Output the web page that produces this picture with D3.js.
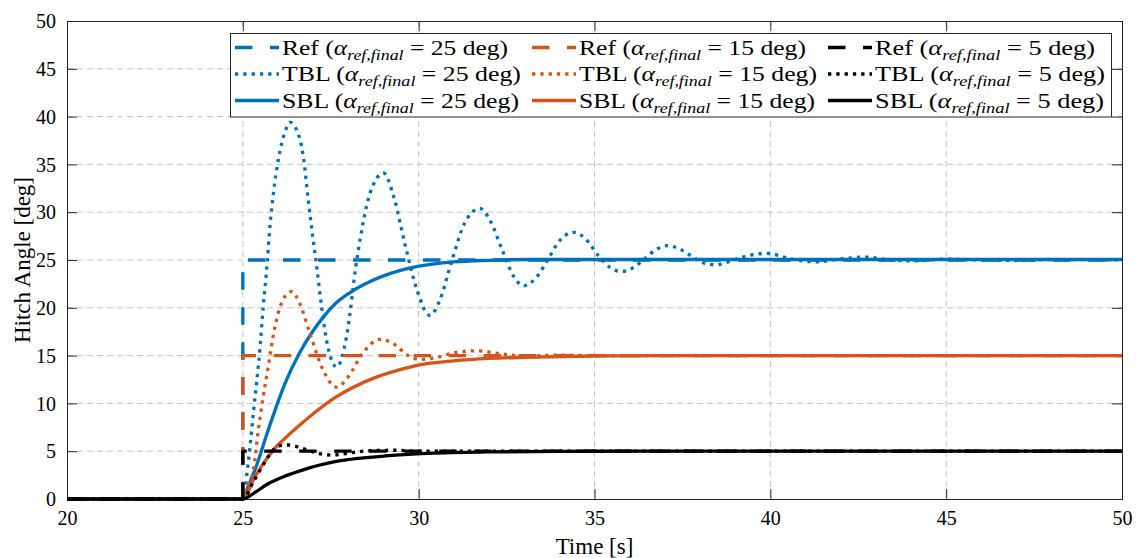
<!DOCTYPE html>
<html><head><meta charset="utf-8">
<script src="https://cdn.jsdelivr.net/npm/d3@7"></script>
<style>html,body{margin:0;padding:0;background:#fff;} svg{display:block;}</style>
</head><body><svg id="c" width="1137" height="558"></svg>
<script>
// ---------- data ----------
const xTicks = [20, 25, 30, 35, 40, 45, 50];
const yTicks = [0, 5, 10, 15, 20, 25, 30, 35, 40, 45, 50];
const finals = [25, 15, 5];
const seriesColors = ["#0072BD", "#D95319", "#000000"];
const kinds = ["Ref", "TBL", "SBL"];

// reference steps
const refTime = [20, 25, 25, 50];
const ref25 = [0, 0, 25, 25];
const ref15 = [0, 0, 15, 15];
const ref5 = [0, 0, 5, 5];

// TBL responses [time, angle]
const tbl25 = [[20,0],[25,0],[25.15,3.7],[25.3,9.0],[25.49,15.9],[25.58,20.1],[25.7,25],[25.77,28.5],[25.87,32],[26.01,35.5],[26.2,38.4],[26.34,39.4],[26.53,38.6],[26.72,35.8],[26.86,31.3],[27.0,27.1],[27.1,24.3],[27.24,20.1],[27.38,16.6],[27.67,13.8],[27.95,17.0],[28.24,25.0],[28.62,32.0],[29.0,34.1],[29.3,31.5],[29.62,26.5],[29.94,22.0],[30.32,19.2],[30.6,20.8],[30.95,25.0],[31.3,28.8],[31.74,30.4],[32.05,29.0],[32.38,26.0],[32.7,23.3],[32.98,22.3],[33.35,23.2],[33.7,25.2],[34.0,27.0],[34.42,27.9],[34.75,27.2],[35.1,25.5],[35.45,24.2],[35.77,23.8],[36.1,24.2],[36.45,25.2],[36.75,26.1],[37.07,26.5],[37.45,26.1],[37.8,25.3],[38.1,24.7],[38.43,24.5],[38.8,24.8],[39.2,25.3],[39.9,25.7],[40.6,25.1],[41.3,24.8],[42.0,25.1],[42.7,25.3],[43.4,25.0],[44.1,24.9],[45,25.1],[46,25.0],[47,24.95],[48,25.05],[50,25.0]];
const tbl15 = [[20,0],[25,0],[25.15,1.5],[25.3,3.0],[25.44,7.2],[25.58,10.7],[25.72,13.8],[25.86,17.0],[26.06,20.1],[26.22,21.3],[26.39,21.7],[26.6,20.6],[26.91,17.3],[27.28,13.5],[27.67,11.7],[28.0,12.8],[28.4,15.2],[28.9,16.7],[29.3,16.2],[29.7,15.0],[30.04,14.6],[30.5,14.8],[31.0,15.3],[31.65,15.5],[32.3,15.2],[33.0,14.95],[34,15.05],[35,15.0],[50,15.0]];
const tbl5 = [[20,0],[25,0],[25.3,1.8],[25.6,3.7],[25.91,5.3],[26.1,5.6],[26.29,5.65],[26.7,5.3],[27.1,4.8],[27.53,4.6],[28.0,4.8],[28.6,5.05],[29.3,5.1],[30,5.0],[50,5.0]];

// SBL responses [time, angle]
const sbl25 = [[20,0],[25,0],[25.15,1.3],[25.34,3.0],[25.72,7.2],[26.2,12.1],[26.6,15.2],[27.0,17.6],[27.28,19.0],[27.65,20.5],[28.05,21.6],[28.62,22.75],[29.2,23.6],[29.94,24.3],[31,24.8],[32,24.97],[33.2,25.05],[50,25.05]];
const sbl15 = [[20,0],[25,0],[25.3,2.0],[25.6,3.8],[25.91,5.3],[26.3,6.7],[26.67,7.9],[27.1,9.2],[27.62,10.6],[28.2,11.8],[28.76,12.7],[29.4,13.45],[29.99,14.0],[31,14.45],[32,14.7],[32.97,14.82],[34.5,14.93],[36,14.98],[38,15],[50,15]];
const sbl5 = [[20,0],[25,0],[25.35,0.7],[25.72,1.6],[26.2,2.4],[26.67,3.0],[27.62,3.9],[28.3,4.25],[29.04,4.5],[30.46,4.8],[32,4.93],[34,4.98],[36,5.0],[50,5.0]];

// legend text target widths (px) per column [Ref, TBL, SBL]
const legendWidths = [[226, 239, 237], [227, 238, 236], [220, 230, 229]];

// ---------- drawing ----------
const svg = d3.select("#c");
const FONT = "'Liberation Serif','Times New Roman',serif";
const L = 67, R = 1122, T = 21, B = 499;
const x = d3.scaleLinear().domain([20, 50]).range([L, R]);
const y = d3.scaleLinear().domain([0, 50]).range([B, T]);
const axisColor = "#262626";
const gridColor = "#c4c4c4";

svg.append("rect").attr("x",0).attr("y",0).attr("width",1137).attr("height",558).attr("fill","#fff");

// grid
const grid = svg.append("g");
grid.selectAll(".gx").data(xTicks.slice(1,-1)).enter().append("line")
  .attr("x1", d=>x(d)).attr("x2", d=>x(d)).attr("y1", T).attr("y2", B)
  .attr("stroke", gridColor).attr("stroke-width",1).attr("stroke-dasharray","6,4");
grid.selectAll(".gy").data(yTicks.slice(1,-1)).enter().append("line")
  .attr("x1", L).attr("x2", R).attr("y1", d=>y(d)).attr("y2", d=>y(d))
  .attr("stroke", gridColor).attr("stroke-width",1).attr("stroke-dasharray","6,4");

// axes with ticks on all sides
const tk = 10;
const axB = svg.append("g").attr("transform",`translate(0,${B})`)
  .call(d3.axisBottom(x).tickValues(xTicks).tickSize(-tk).tickPadding(0).tickFormat(d3.format("d")));
const axT = svg.append("g").attr("transform",`translate(0,${T})`)
  .call(d3.axisTop(x).tickValues(xTicks).tickSize(-tk).tickFormat(""));
const axL = svg.append("g").attr("transform",`translate(${L},0)`)
  .call(d3.axisLeft(y).tickValues(yTicks).tickSize(-tk).tickPadding(0).tickFormat(d3.format("d")));
const axR = svg.append("g").attr("transform",`translate(${R},0)`)
  .call(d3.axisRight(y).tickValues(yTicks).tickSize(-tk).tickFormat(""));
[axB, axT, axL, axR].forEach(a => {
  a.attr("font-family", FONT).attr("font-size", 20);
  a.select(".domain").attr("stroke", axisColor).attr("stroke-width", 1);
  a.selectAll(".tick line").attr("stroke", axisColor).attr("stroke-width", 1);
  a.selectAll("text").attr("font-family", FONT).attr("font-size", 20).attr("fill", "#000");
});
axB.selectAll(".tick text").attr("y", 12).attr("dy", "0.71em");
axL.selectAll(".tick text").attr("x", -11).attr("dy", "0.33em");

// axis labels
svg.append("text").attr("x", (L+R)/2).attr("y", 554).attr("text-anchor","middle")
  .attr("font-family", FONT).attr("font-size", 23).text("Time [s]");
svg.append("text").attr("transform", `translate(30,${(T+B)/2}) rotate(-90)`).attr("text-anchor","middle")
  .attr("font-family", FONT).attr("font-size", 23).text("Hitch Angle [deg]");

// clip
svg.append("clipPath").attr("id","clip").append("rect").attr("x",L).attr("y",T-4).attr("width",R-L).attr("height",B-T+8);
const plot = svg.append("g").attr("clip-path","url(#clip)");

const lw = 3.3;
const styles = {
  Ref: {dash: "17.5,17.5"},
  TBL: {dash: "3.3,5"},
  SBL: {dash: null}
};
const stepLine = d3.line().x(d=>x(d[0])).y(d=>y(d[1]));
const smoothLine = d3.line().x(d=>x(d[0])).y(d=>y(d[1])).curve(d3.curveMonotoneX);

const refs = [ref25, ref15, ref5];
const tbls = [tbl25, tbl15, tbl5];
const sbls = [sbl25, sbl15, sbl5];

function draw(g, data, gen, color, dash) {
  const p = g.append("path").datum(data).attr("d", gen)
    .attr("fill","none").attr("stroke", color).attr("stroke-width", lw)
    .attr("stroke-linejoin","round");
  if (dash) p.attr("stroke-dasharray", dash);
}
for (let i = 0; i < 3; i++) {
  const refPts = refTime.map((t, k) => [t, refs[i][k]]);
  draw(plot, refPts, stepLine, seriesColors[i], styles.Ref.dash);
  draw(plot, tbls[i], smoothLine, seriesColors[i], styles.TBL.dash);
  draw(plot, sbls[i], smoothLine, seriesColors[i], styles.SBL.dash);
}

// legend
const lg = svg.append("g");
lg.append("rect").attr("x", 230.5).attr("y", 33.5).attr("width", 881).attr("height", 83.5)
  .attr("fill", "#fff").attr("stroke", axisColor).attr("stroke-width", 1);
const colX = [235, 532, 828];
const rowY = [47.5, 74, 100.5];
const sampleLen = 44;
for (let c = 0; c < 3; c++) {
  kinds.forEach((k, r) => {
    const yy = rowY[r];
    const ln = lg.append("line").attr("x1", colX[c]).attr("x2", colX[c] + sampleLen)
      .attr("y1", yy).attr("y2", yy).attr("stroke", seriesColors[c]).attr("stroke-width", lw);
    if (styles[k].dash) ln.attr("stroke-dasharray", styles[k].dash);
    const t = lg.append("text").attr("x", colX[c] + sampleLen + 3).attr("y", yy + 7)
      .attr("font-family", FONT).attr("font-size", 20).attr("fill", "#000")
      .attr("textLength", legendWidths[c][r]).attr("lengthAdjust", "spacingAndGlyphs");
    t.append("tspan").text(k + " (");
    t.append("tspan").attr("font-style", "italic").text("α");
    t.append("tspan").attr("font-style", "italic").attr("font-size", 14).attr("dy", 5).text("ref,final");
    t.append("tspan").attr("dy", -5).text("  =  " + finals[c] + " deg)");
  });
}
</script></body></html>
